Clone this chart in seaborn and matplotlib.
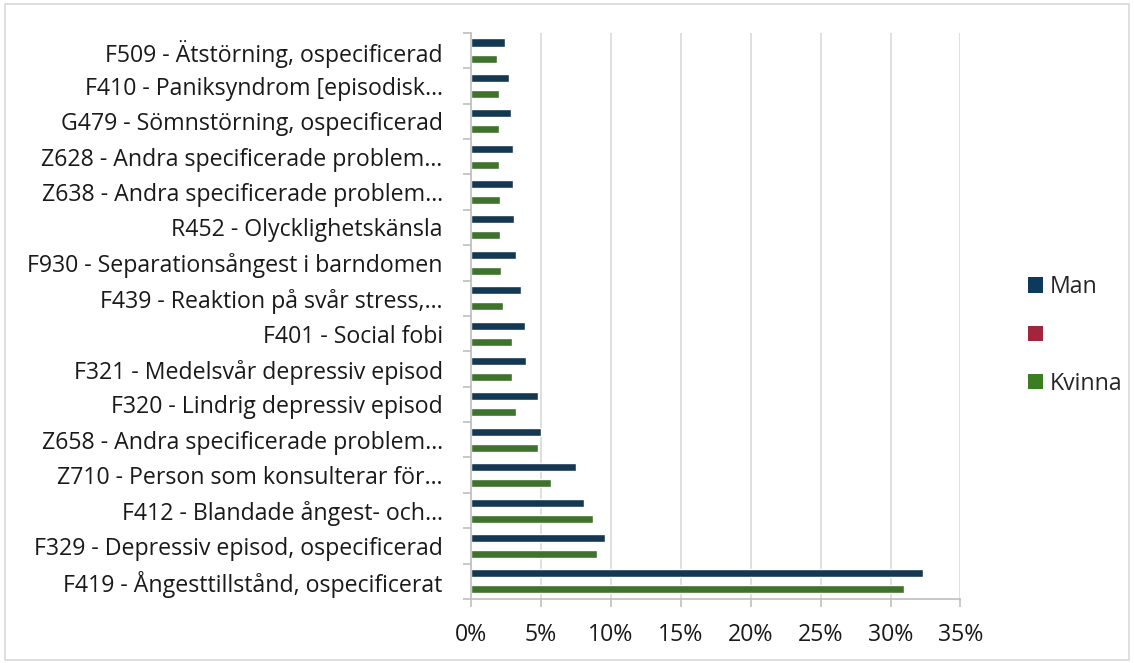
import pandas as pd
import matplotlib
matplotlib.use("Agg")
import matplotlib.pyplot as plt
import seaborn as sns
from matplotlib.patches import Patch, Rectangle
from matplotlib.ticker import FuncFormatter, MultipleLocator

# diagnoses, top to bottom as in the chart
diagnoses = [
    "F509 - Ätstörning, ospecificerad",
    "F410 - Paniksyndrom [episodisk…",
    "G479 - Sömnstörning, ospecificerad",
    "Z628 - Andra specificerade problem…",
    "Z638 - Andra specificerade problem…",
    "R452 - Olycklighetskänsla",
    "F930 - Separationsångest i barndomen",
    "F439 - Reaktion på svår stress,…",
    "F401 - Social fobi",
    "F321 - Medelsvår depressiv episod",
    "F320 - Lindrig depressiv episod",
    "Z658 - Andra specificerade problem…",
    "Z710 - Person som konsulterar för…",
    "F412 - Blandade ångest- och…",
    "F329 - Depressiv episod, ospecificerad",
    "F419 - Ångesttillstånd, ospecificerat",
]
man = [2.48, 2.74, 2.90, 3.02, 3.05, 3.10, 3.21, 3.60, 3.88, 3.95,
       4.83, 5.02, 7.55, 8.10, 9.57, 32.30]
blank = [0.0] * len(diagnoses)
kvinna = [1.90, 2.00, 2.02, 2.02, 2.12, 2.12, 2.17, 2.33, 2.95, 2.98,
          3.24, 4.83, 5.76, 8.74, 9.00, 30.95]

series = ["Man", "Serie2", "Kvinna"]
legend_labels = ["Man", "", "Kvinna"]
colors = ["#0B3A5C", "#A0263C", "#3A7D22"]

df = pd.concat([
    pd.DataFrame({"diagnos": diagnoses, "serie": s, "andel": v})
    for s, v in zip(series, [man, blank, kvinna])
])

sns.set_theme(style="white")
plt.rcParams["font.family"] = ["Open Sans", "DejaVu Sans"]

fig = plt.figure(figsize=(11.34, 6.63), dpi=100)
ax = fig.add_axes([0.415, 0.0965, 0.432, 0.854])

sns.barplot(data=df, x="andel", y="diagnos", hue="serie", order=diagnoses,
            hue_order=series, palette=colors, width=0.68, gap=0.0,
            orient="h", legend=False, ax=ax)

ax.set_xlim(0, 35)
ax.xaxis.set_major_locator(MultipleLocator(5))
ax.xaxis.set_major_formatter(FuncFormatter(lambda v, p: f"{v:.0f}%"))
ax.set_xlabel("")
ax.set_ylabel("")
ax.grid(axis="x", color="#D9D9D9", linewidth=1.2)
ax.set_axisbelow(True)

for side in ["top", "right"]:
    ax.spines[side].set_visible(False)
for side in ["left", "bottom"]:
    ax.spines[side].set_color("#BFBFBF")
    ax.spines[side].set_linewidth(1.2)

# category boundary ticks on the y axis
ax.set_yticks([i - 0.5 for i in range(len(diagnoses) + 1)], minor=True)
ax.tick_params(axis="y", which="major", length=0, pad=20, labelsize=16.7,
               labelcolor="#1a1a1a")
ax.tick_params(axis="y", which="minor", left=True, length=6, width=1.2,
               color="#BFBFBF")
ax.tick_params(axis="x", bottom=True, length=6, width=1.2, color="#BFBFBF",
               labelsize=16.7, labelcolor="#1a1a1a", pad=11)

handles = [Patch(facecolor=c, edgecolor="none") for c in colors]
fig.legend(handles, legend_labels, loc="center left",
           bbox_to_anchor=(0.888, 0.494), frameon=False, fontsize=16.7,
           handlelength=0.65, handleheight=0.65, handletextpad=0.3,
           labelspacing=1.05)

fig.add_artist(Rectangle((0.004, 0.005), 0.992, 0.989, transform=fig.transFigure,
                         fill=False, edgecolor="#D9D9D9", linewidth=1.2))

fig.savefig("out.png", dpi=100)
